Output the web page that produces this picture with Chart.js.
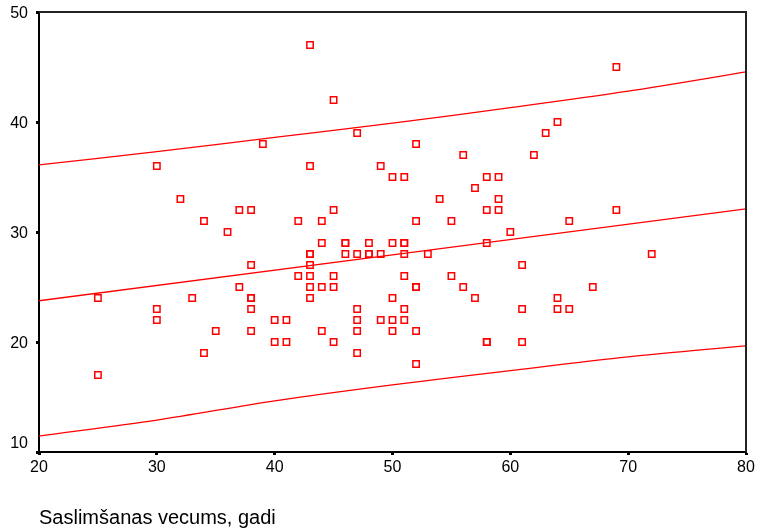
<!DOCTYPE html>
<html>
<head>
<meta charset="utf-8">
<script src="https://cdn.jsdelivr.net/npm/chart.js@4"></script>
<style>
  html, body { margin:0; padding:0; background:#fff; }
  #wrap { width:757px; height:531px; }
</style>
</head>
<body>
<div id="wrap"><canvas id="chartScatter"></canvas></div>
<script>
// ── Data ──
const ageX = [
  25,25, 30,30,30, 32, 33, 34,34, 35, 36, 37,37,
  38,38,38,38,38,38, 39, 40,40, 41,41, 42,42,
  43,43,43,43,43,43,43,43, 44,44,44,44, 45,45,45,45,45,
  46,46,46, 47,47,47,47,47,47, 48,48,48, 49,49,49,
  50,50,50,50,50, 51,51,51,51,51,51,51, 52,52,52,52,52,52,
  53, 54, 55,55, 56,56, 57,57, 58,58,58,58,58, 59,59,59,
  60, 61,61,61, 62, 63, 64,64,64, 65,65, 67, 69,69, 72
];
const scoreY = [
  17,24, 36,23,22, 33, 24, 31,19, 21, 30, 32,25,
  32,27,24,24,23,21, 38, 22,20, 22,20, 31,26,
  47,36,28,28,27,26,25,24, 31,29,25,21, 42,32,26,25,20,
  29,29,28, 39,28,23,22,21,19, 29,28,28, 36,28,22,
  35,29,24,22,21, 35,29,29,28,26,23,22, 38,31,25,25,21,18,
  28, 33, 31,26, 37,25, 34,24, 35,32,29,20,20, 35,33,32,
  30, 27,23,20, 37, 39, 40,24,23, 31,23, 25, 45,32, 28
];

// regression line and prediction band
const fitX   = [20, 80];
const fitY   = [23.75, 32.1];
const bandX  = [20, 30, 40, 50, 60, 70, 80];
const upperY = [36.1, 37.3, 38.6, 39.9, 41.3, 42.8, 44.55];
const lowerY = [11.45, 12.9, 14.65, 16.1, 17.4, 18.65, 19.65];

const xTitle = 'Saslimšanas vecums, gadi';
const RED = '#ff0000';
const FONT = 'Liberation Sans, Arial, sans-serif';

const toXY = (xs, ys) => xs.map((x, i) => ({ x, y: ys[i] }));

// ── Frame on top/right edges + y labels (lowest one lifted clear of the x labels) ──
const framePlugin = {
  id: 'frame',
  afterDraw(chart) {
    const { ctx, chartArea: a } = chart;
    ctx.save();
    ctx.strokeStyle = '#222';
    ctx.lineWidth = 2;
    ctx.beginPath();
    ctx.moveTo(a.left, a.top);
    ctx.lineTo(a.right, a.top);
    ctx.lineTo(a.right, a.bottom);
    ctx.stroke();

    const ys = chart.scales.y;
    ctx.fillStyle = '#000';
    ctx.font = '16px ' + FONT;
    ctx.textAlign = 'right';
    ctx.textBaseline = 'middle';
    ys.ticks.forEach(t => {
      let py = ys.getPixelForValue(t.value) + 2;
      if (t.value === ys.min) py -= 10;
      ctx.fillText(String(t.value), a.left - 11, py);
    });
    ctx.restore();
  }
};

const lineDs = (data) => ({
  type: 'scatter',
  data,
  showLine: true,
  borderColor: RED,
  borderWidth: 1.3,
  pointRadius: 0,
  tension: 0.3,
  fill: false
});

new Chart(document.getElementById('chartScatter').getContext('2d'), {
  type: 'scatter',
  data: {
    datasets: [
      {
        data: toXY(ageX, scoreY),
        pointStyle: 'rect',
        pointRadius: 4.5,
        pointBorderWidth: 1.5,
        borderColor: RED,
        backgroundColor: 'rgba(255,255,255,0)'
      },
      lineDs(toXY(fitX, fitY)),
      lineDs(toXY(bandX, upperY)),
      lineDs(toXY(bandX, lowerY))
    ]
  },
  options: {
    responsive: true,
    maintainAspectRatio: false,
    animation: false,
    events: [],
    layout: { padding: { left: 0, top: 12, right: 11, bottom: 0 } },
    plugins: { legend: { display: false }, tooltip: { enabled: false } },
    scales: {
      x: {
        type: 'linear', min: 20, max: 80,
        afterFit(scale) { scale.height = 79; scale.paddingLeft = 0; scale.paddingRight = 0; },
        border: { display: true, color: '#000', width: 2 },
        grid: { drawOnChartArea: false, drawTicks: true, tickLength: 3, tickWidth: 3, tickColor: '#000' },
        ticks: { stepSize: 10, color: '#000', font: { family: FONT, size: 16 }, padding: 3, maxRotation: 0 },
        title: {
          display: true, text: xTitle, align: 'start', color: '#000',
          font: { family: FONT, size: 20 },
          padding: { top: 0, bottom: 1 }
        }
      },
      y: {
        type: 'linear', min: 10, max: 50,
        afterFit(scale) { scale.width = 39; scale.paddingTop = 0; scale.paddingBottom = 0; },
        border: { display: true, color: '#000', width: 2 },
        grid: { drawOnChartArea: false, drawTicks: true, tickLength: 3, tickWidth: 3, tickColor: '#000' },
        ticks: { stepSize: 10, display: false }
      }
    }
  },
  plugins: [framePlugin]
});
</script>
</body>
</html>
